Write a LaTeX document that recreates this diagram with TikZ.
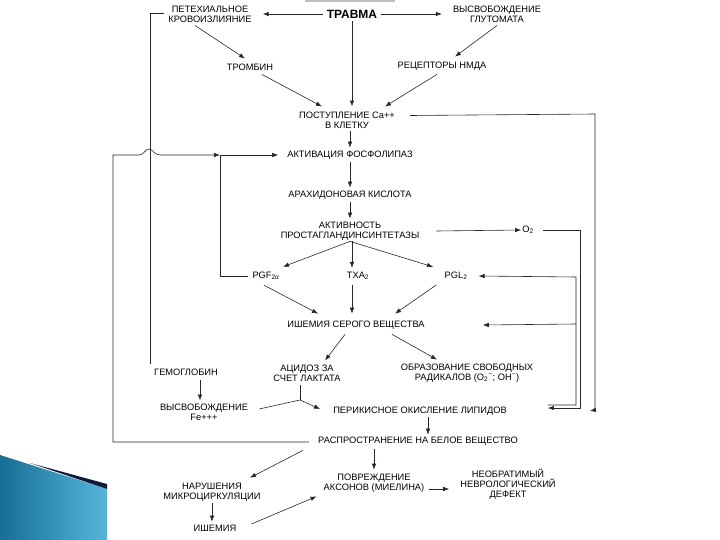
\documentclass[tikz,border=0pt]{standalone}
\usepackage{fontspec}
\setmainfont{Liberation Sans}
\usepackage{tikz}
\usetikzlibrary{arrows.meta, calc, positioning}
\definecolor{slideblueA}{RGB}{24,110,150}
\definecolor{slideblueB}{RGB}{84,182,218}
\definecolor{slidenavy}{RGB}{14,26,60}

\begin{document}
\begin{tikzpicture}[x=1pt,y=-1pt]
		\tikzset{Label/.style = {font=\fontsize{9.3}{10}\selectfont, align=center, inner sep=1pt}}
		\tikzset{EdgeStyle/.style = {-{Latex[length=6pt,width=4.5pt]}, line width=0.6pt, color=black!85}}
		\tikzset{LineStyle/.style = {line width=0.6pt, color=black!85}}% no tip
		\useasboundingbox (0,0) rectangle (720,540);
		
		% slide corner and top bar
		\shade[left color=slideblueA, right color=slideblueB] (0,455) -- (107,489) -- (107,540) -- (0,540) -- cycle;
		\fill[slidenavy] (30,463) -- (107,484) -- (107,489) -- cycle;
		\draw[black!25, line width=2pt] (305,1) -- (395,1);
		
		\node[Label, font=\bfseries\fontsize{12}{13}\selectfont] (trauma) at (352,14) {ТРАВМА};
		
		\node[Label] (hem) at (210,14) {ПЕТЕХИАЛЬНОЕ\\КРОВОИЗЛИЯНИЕ};
		\node[Label] (glu) at (497,14) {ВЫСВОБОЖДЕНИЕ\\ГЛУТОМАТА};
		\node[Label] (thr) at (250,67) {ТРОМБИН};
		\node[Label] (nmda) at (442,66) {РЕЦЕПТОРЫ НМДА};
		\node[Label] (ca) at (347,120) {ПОСТУПЛЕНИЕ Ca++\\В КЛЕТКУ};
		
		\node[Label] (phos) at (350,155) {АКТИВАЦИЯ ФОСФОЛИПАЗ};
		\node[Label] (arach) at (350,195) {АРАХИДОНОВАЯ КИСЛОТА};
		\node[Label] (psyn) at (350,231) {АКТИВНОСТЬ\\ПРОСТАГЛАНДИНСИНТЕТАЗЫ};
		\node[Label] (otwo) at (528,230) {O\textsubscript{2}};
		
		\node[Label] (pgf) at (266,276) {PGF\textsubscript{2α}};
		\node[Label] (txa) at (358,276) {TXA\textsubscript{2}};
		\node[Label] (pgi) at (456,276) {PGL\textsubscript{2}};
		\node[Label] (isch) at (356,325) {ИШЕМИЯ СЕРОГО ВЕЩЕСТВА};
		
		\node[Label] (hemo) at (186,372) {ГЕМОГЛОБИН};
		\node[Label] (acid) at (307,373) {АЦИДОЗ ЗА\\СЧЕТ ЛАКТАТА};
		\node[Label] (rad) at (467,373) {ОБРАЗОВАНИЕ СВОБОДНЫХ\\РАДИКАЛОВ (O\textsubscript{2}\textsuperscript{−}; OH\textsuperscript{−})};
		\node[Label] (fe) at (204,412) {ВЫСВОБОЖДЕНИЕ\\Fe+++};
		\node[Label] (lip) at (420,411) {ПЕРИКИСНОЕ ОКИСЛЕНИЕ ЛИПИДОВ};
		\node[Label] (white) at (418,441) {РАСПРОСТРАНЕНИЕ НА БЕЛОЕ ВЕЩЕСТВО};
		
		\node[Label] (micro) at (212,492) {НАРУШЕНИЯ\\МИКРОЦИРКУЛЯЦИИ};
		\node[Label] (axon) at (374,483) {ПОВРЕЖДЕНИЕ\\АКСОНОВ (МИЕЛИНА)};
		\node[Label] (defect) at (508,484) {НЕОБРАТИМЫЙ\\НЕВРОЛОГИЧЕСКИЙ\\ДЕФЕКТ};
		\node[Label] (isch2) at (215,528) {ИШЕМИЯ};
		
		\coordinate (jp) at (220,155);% join left
		\coordinate (jn) at (300,400);% join lipids
		\coordinate (fb) at (576,324);% feedback right
		
		%%%%%%%%%%%%%%%%%%%%%%%%%%%%%%
		
		\draw[EdgeStyle, shorten <=3pt, shorten >=10pt] (trauma.west) -- (hem.east |- trauma.west);
		\draw[EdgeStyle, shorten <=3pt, shorten >=10pt] (trauma.east) -- (glu.west |- trauma.east);
		\draw[EdgeStyle] ($(hem.south)+(-15,2)$) -- ($(thr.north)+(-5,-4)$);
		\draw[EdgeStyle] ($(glu.south)+(0,2)$) -- ($(nmda.north)+(13,-4)$);
		
		\draw[EdgeStyle] ($(thr.south)+(12,3)$) -- ($(ca.north)+(-25,-4)$);
		\draw[EdgeStyle, shorten <=2pt, shorten >=4pt] (trauma.south) -- (trauma.south |- ca.north);
		\draw[EdgeStyle] ($(nmda.south)+(-5,3)$) -- ($(ca.north)+(38,-4)$);
		\draw[EdgeStyle] ($(ca.north east)+(14,5)$) -- (595,114) -- (595,410) -- ($(lip.east)+(82,0)$);
		
		\draw[EdgeStyle, shorten <=2pt, shorten >=2pt] (ca.south -| phos.north) -- (phos.north);
		\draw[EdgeStyle, shorten <=2pt, shorten >=2pt] (phos.south) -- (arach.north);
		\draw[EdgeStyle, shorten <=2pt, shorten >=2pt] (arach.south) -- (psyn.north);
		\draw[EdgeStyle] ($(psyn.east)+(16,0)$) -- (otwo.west);
		\draw[EdgeStyle] ($(otwo.east)+(8,0)$) -- (580,230) -- (580,408) -- ($(lip.east)+(40,-3)$);
		
		\draw[EdgeStyle] (psyn.south) -- ($(pgf.north)+(17,-4)$);
		\draw[EdgeStyle] ($(psyn.south)+(2,0)$) -- ($(txa.north)+(-6,-3)$);
		\draw[EdgeStyle] (psyn.south) -- ($(pgi.north)+(-23,-4)$);
		
		\draw[EdgeStyle] ($(pgf.south)+(-2,4)$) -- ($(isch.north)+(-38,-6)$);
		\draw[EdgeStyle] ($(txa.south)+(-6,4)$) -- ($(isch.north)+(-4,-6)$);
		\draw[EdgeStyle] ($(pgi.south)+(-20,4)$) -- ($(isch.north)+(39,-6)$);
		\draw[EdgeStyle] ($(lip.east)+(40,-6)$) -- (576,405) -- (576,277) -- ($(pgi.east)+(10,0)$);
		\draw[EdgeStyle] (fb) -- ($(isch.east)+(57,0)$);
		
		\draw[EdgeStyle] ($(isch.south)+(-11,4)$) -- ($(acid.north)+(18,-3)$);
		\draw[EdgeStyle] ($(isch.south)+(36,4)$) -- ($(rad.north)+(-30,-3)$);
		\draw[LineStyle] ($(acid.south -| jn)+(0,3)$) -- (jn);
		\draw[EdgeStyle] ($(fe.east)+(10,-3)$) -- (jn) -- ($(lip.west)+(-12,-2)$);
		\draw[EdgeStyle] ($(lip.south)+(8,1)$) -- ($(white.north)+(10,-1)$);
		
		\draw[EdgeStyle] ($(white.west)+(-8,1)$) -- (113,442) -- (113,155) -- (139,155)
			.. controls (144,155) and (145,149) .. (149,149)
			.. controls (153,149) and (154,155) .. (160,155) -- (jp);
		\draw[LineStyle] ($(pgf.west)+(-3,0)$) -- (pgf.west -| jp) -- (jp);
		\draw[EdgeStyle, shorten >=8pt] (jp) -- (phos.west);
		
		\draw[LineStyle] ($(hem.west)+(-3,-1)$) -| ($(hemo.north west)+(-3,-4)$);
		\draw[EdgeStyle] ($(hemo.south)+(14,4)$) -- ($(fe.north)+(-4,-2)$);
		
		\draw[EdgeStyle] ($(white.south west)+(-14,4)$) -- ($(micro.north)+(38,-4)$);
		\draw[EdgeStyle] ($(white.south)+(-44,3)$) -- ($(axon.north)+(0,-3)$);
		\draw[EdgeStyle] ($(axon.east)+(4,6)$) -- ($(defect.west)+(-10,5)$);
		\draw[EdgeStyle, shorten <=1pt, shorten >=2pt] (micro.south) -- (micro.south |- isch2.north);
		\draw[EdgeStyle] ($(isch2.east)+(14,-4)$) -- ($(axon.south west)+(-6,3)$);
		
	\end{tikzpicture}
\end{document}
